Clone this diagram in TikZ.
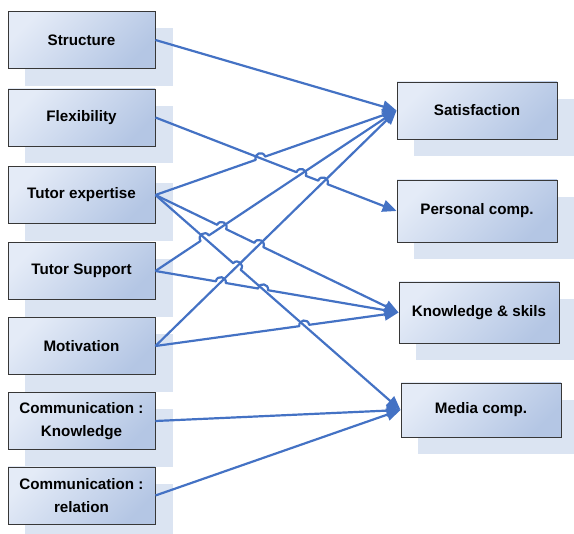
\documentclass[tikz,border=0pt]{standalone}
\usepackage{fontspec}
\setmainfont{Liberation Sans}
\usetikzlibrary{arrows.meta,calc,backgrounds}
\definecolor{linec}{RGB}{68,114,196}
\definecolor{shadc}{RGB}{219,228,242}
\definecolor{boxlight}{RGB}{228,235,247}
\definecolor{boxdark}{RGB}{180,198,228}
\definecolor{boxedge}{RGB}{55,55,55}
\newcommand{\hr}{5pt}
\newcommand{\hk}{6.67pt}
\newcommand{\mkhop}[4]{%
  \coordinate (#1) at (intersection of #2--#3 and #4);
  \coordinate (#1a) at ($(#1)!\hr!(#2)$);
  \coordinate (#1b) at ($(#1)!\hr!(#3)$);
  \coordinate (#1c) at ($(#1a)!\hk!90:(#1b)$);
  \coordinate (#1d) at ($(#1b)!\hk!-90:(#1a)$);
}
\tikzset{
  box/.style={draw=boxedge, line width=0.9pt, top color=boxlight, bottom color=boxdark,
    shading angle=45, font=\fontsize{15.2}{23}\selectfont\bfseries, align=center,
    inner sep=0pt},
  lbox/.style={box, minimum width=147pt, minimum height=57pt},
  rbox/.style={box, minimum width=160pt},
  conn/.style={draw=linec, line width=2.2pt, line join=round,
    -{Triangle[length=14pt,width=12pt]}},
  shadow/.style={fill=shadc}
}
\begin{document}
\begin{tikzpicture}[x=1pt,y=-1pt]
\useasboundingbox (0,0) rectangle (574,534);
% left boxes
\node[lbox] (struct) at (81.5,40) {Structure};
\node[lbox] (flex) at (81.5,117.5) {Flexibility};
\node[lbox] (te) at (81.5,195) {Tutor expertise};
\node[lbox] (ts) at (81.5,271) {Tutor Support};
\node[lbox] (mot) at (81.5,346) {Motivation};
\node[lbox] (ck) at (81.5,421) {Communication :\\Knowledge};
\node[lbox] (cr) at (81.5,495.5) {Communication :\\relation};
% right boxes
\node[rbox, minimum height=57pt] (sat) at (477,110.5) {Satisfaction};
\node[rbox, minimum height=62pt] (pers) at (477,211) {Personal comp.};
\node[rbox, minimum height=61pt] (ks) at (479,312.5) {Knowledge \& skils};
\node[rbox, minimum height=54pt] (media) at (481,410) {Media comp.};
% shadows
\begin{pgfonlayer}{background}
\foreach \n in {struct,flex,te,ts,mot,ck,cr,sat,pers,ks,media}{
  \fill[shadow] ($(\n.north west)+(17.5,17)$) rectangle ($(\n.south east)+(17.5,17)$);
}
\end{pgfonlayer}
% hop points
\mkhop{hA}{flex.east}{pers.west}{ts.east--sat.west}
\mkhop{hB}{flex.east}{pers.west}{mot.east--sat.west}
\mkhop{hC}{te.east}{sat.west}{flex.east--pers.west}
\mkhop{hD}{te.east}{ks.west}{ts.east--sat.west}
\mkhop{hE}{te.east}{ks.west}{mot.east--sat.west}
\mkhop{hF}{te.east}{media.west}{mot.east--sat.west}
\mkhop{hG}{ts.east}{sat.west}{te.east--media.west}
\mkhop{hH}{ts.east}{ks.west}{mot.east--sat.west}
\mkhop{hI}{ts.east}{ks.west}{te.east--media.west}
\mkhop{hJ}{mot.east}{ks.west}{te.east--media.west}
% connectors
\draw[conn] (struct.east) -- (sat.west);
\draw[conn] (flex.east) -- (hAa) .. controls (hAc) and (hAd) .. (hAb)
  -- (hBa) .. controls (hBc) and (hBd) .. (hBb) -- (pers.west);
\draw[conn] (te.east) -- (hCa) .. controls (hCc) and (hCd) .. (hCb) -- (sat.west);
\draw[conn] (te.east) -- (hDa) .. controls (hDc) and (hDd) .. (hDb)
  -- (hEa) .. controls (hEc) and (hEd) .. (hEb) -- (ks.west);
\draw[conn] (te.east) -- (hFa) .. controls (hFc) and (hFd) .. (hFb) -- (media.west);
\draw[conn] (ts.east) -- (hGa) .. controls (hGc) and (hGd) .. (hGb) -- (sat.west);
\draw[conn] (ts.east) -- (hHa) .. controls (hHc) and (hHd) .. (hHb)
  -- (hIa) .. controls (hIc) and (hId) .. (hIb) -- (ks.west);
\draw[conn] (mot.east) -- (sat.west);
\draw[conn] (mot.east) -- (hJa) .. controls (hJc) and (hJd) .. (hJb) -- (ks.west);
\draw[conn] (ck.east) -- (media.west);
\draw[conn] (cr.east) -- (media.west);
\end{tikzpicture}
\end{document}
